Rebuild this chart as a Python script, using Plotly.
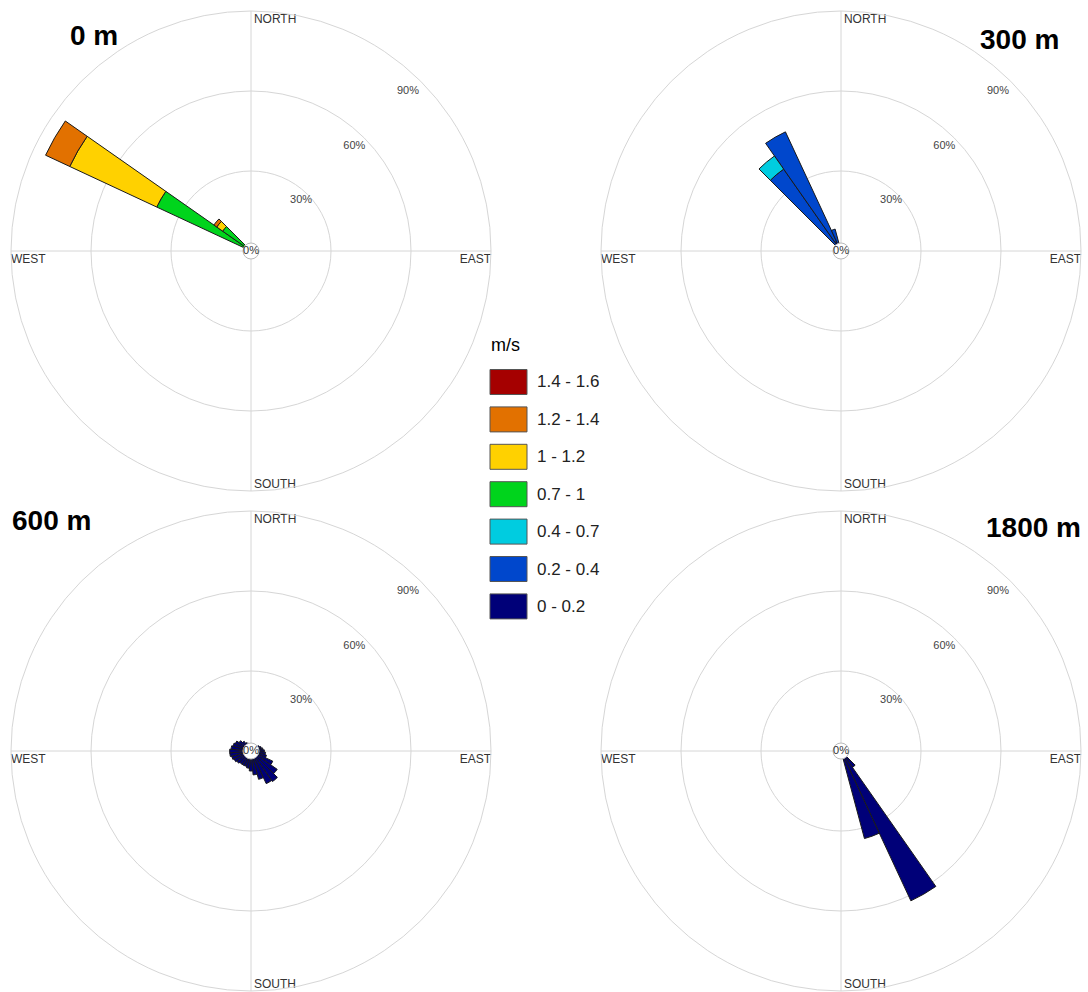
import plotly.graph_objects as go

# Speed classes (m/s) and their fill colours, lowest class first (stacking order)
speed_bins = ["0 - 0.2", "0.2 - 0.4", "0.4 - 0.7", "0.7 - 1", "1 - 1.2", "1.2 - 1.4", "1.4 - 1.6"]
bin_colors = ["#000078", "#0047CC", "#00CCE0", "#00D41C", "#FFD100", "#E27100", "#A50000"]

heights = ["0 m", "300 m", "600 m", "1800 m"]

# Direction sectors (degrees, blowing from) and frequency (%) per speed class
dirs_0m = [300, 310]
freq_0m = {
    "0.7 - 1": [39, 13],
    "1 - 1.2": [36, 2.7],
    "1.2 - 1.4": [10, 1.3],
}

dirs_300m = [320, 330, 340]
freq_300m = {
    "0 - 0.2": [3, 4, 2],
    "0.2 - 0.4": [34.5, 45.3, 6.5],
    "0.4 - 0.7": [6, 0, 0],
}

dirs_600m = [0, 10, 20, 30, 40, 50, 60, 70, 80, 90, 100, 110,
             120, 130, 140, 150, 160, 170, 180, 190, 200, 210, 220, 230,
             240, 250, 260, 270, 280, 290, 300, 310, 320, 330, 340, 350]
freq_600m = {
    "0 - 0.2": [2, 2, 2, 2, 2.5, 3, 3.5, 4, 4.5, 5, 5.5, 6,
                9, 12, 14, 13.5, 11, 9, 7.5, 6.5, 6, 6, 6, 6.5,
                7, 7.5, 8, 8, 7.5, 7, 6.5, 5.5, 4.5, 3.5, 3, 2.5],
}

dirs_1800m = [140, 150, 160]
freq_1800m = {
    "0 - 0.2": [7.5, 62, 34],
}

compass_names = ["NORTH", "EAST", "SOUTH", "WEST"]
compass_dirs = [0, 90, 180, 270]
ring_values = [30, 60, 90]
ring_labels = ["30%", "60%", "90%"]

W, H = 1088, 992
RADIUS = 240
panels = [
    (dirs_0m, freq_0m, 251, 251),
    (dirs_300m, freq_300m, 841, 251),
    (dirs_600m, freq_600m, 251, 751),
    (dirs_1800m, freq_1800m, 841, 751),
]

GRID = "#D6D6D6"
FONT = "Liberation Sans, Arial"
label_inset = [3.2, 4.7, 6.0]  # pull each ring label slightly inside its ring
fig = go.Figure()
layout_polars = {}

for i, (dirs, freq, cx, cy) in enumerate(panels):
    key = "polar" if i == 0 else f"polar{i + 1}"
    for name, color in zip(speed_bins, bin_colors):
        if name not in freq:
            continue
        fig.add_trace(go.Barpolar(
            r=freq[name], theta=dirs, width=10, name=name,
            marker=dict(color=color, line=dict(color="#1a1a1a", width=1)),
            showlegend=False, subplot=key, hoverinfo="skip",
        ))
    # ring percentage labels along the north-east diagonal
    fig.add_trace(go.Scatterpolar(
        r=[v - d for v, d in zip(ring_values, label_inset)],
        theta=[44.5] * len(ring_values),
        mode="text", text=ring_labels,
        textfont=dict(family=FONT, size=11, color="#444444"),
        showlegend=False, subplot=key, hoverinfo="skip",
    ))
    # compass point names just inside the outer ring
    fig.add_trace(go.Scatterpolar(
        r=[89, 90, 90, 90],
        theta=[d + off for d, off in zip(compass_dirs, [0.7, 0.8, -0.7, -0.8])],
        mode="text", text=compass_names,
        textposition=["bottom right", "bottom left", "top right", "bottom right"],
        textfont=dict(family=FONT, size=12, color="#333333"),
        showlegend=False, subplot=key, hoverinfo="skip",
    ))
    # calm circle at the centre
    fig.add_trace(go.Scatterpolar(
        r=[0], theta=[0], mode="markers+text", text=["0%"],
        textposition="middle center",
        marker=dict(size=16, color="white", line=dict(color="#BBBBBB", width=1)),
        textfont=dict(family=FONT, size=11, color="#333333"),
        showlegend=False, subplot=key, hoverinfo="skip",
    ))

    x0, x1 = (cx - RADIUS) / W, (cx + RADIUS) / W
    y0, y1 = 1 - (cy + RADIUS) / H, 1 - (cy - RADIUS) / H
    layout_polars[key] = dict(
        domain=dict(x=[x0, x1], y=[max(y0, 0), y1]),
        bgcolor="rgba(0,0,0,0)",
        barmode="stack",
        radialaxis=dict(range=[0, 90], tickvals=ring_values, showticklabels=False,
                        showline=False, ticks="", gridcolor=GRID, gridwidth=1),
        angularaxis=dict(rotation=90, direction="clockwise", tickvals=compass_dirs,
                         showticklabels=False, ticks="", gridcolor=GRID, gridwidth=1,
                         showline=True, linecolor=GRID, linewidth=1),
    )

annotations = []
# panel titles
title_pos = [(68, 36, "left"), (1061, 40, "right"), (10, 520, "left"), (1083, 527, "right")]
for text, (tx, ty, anchor) in zip(heights, title_pos):
    annotations.append(dict(
        x=tx / W, y=1 - ty / H, xref="paper", yref="paper", text=f"<b>{text}</b>",
        showarrow=False, xanchor=anchor, yanchor="middle",
        font=dict(family=FONT, size=28, color="#000000"),
    ))

# speed-class key
annotations.append(dict(
    x=489 / W, y=1 - 345 / H, xref="paper", yref="paper", text="m/s",
    showarrow=False, xanchor="left", yanchor="middle",
    font=dict(family=FONT, size=18, color="#000000"),
))
shapes = []
key_top = 382
key_step = 37.4
for j, (name, color) in enumerate(zip(reversed(speed_bins), reversed(bin_colors))):
    yc = key_top + j * key_step
    shapes.append(dict(
        type="rect", xref="paper", yref="paper",
        x0=490 / W, x1=527 / W, y0=1 - (yc + 12.5) / H, y1=1 - (yc - 12.5) / H,
        fillcolor=color, line=dict(color="#555555", width=1),
    ))
    annotations.append(dict(
        x=535 / W, y=1 - yc / H, xref="paper", yref="paper", text=name,
        showarrow=False, xanchor="left", yanchor="middle",
        font=dict(family=FONT, size=17, color="#222222"),
    ))

fig.update_layout(
    width=W, height=H,
    margin=dict(l=0, r=0, t=0, b=0),
    paper_bgcolor="white", plot_bgcolor="white",
    annotations=annotations, shapes=shapes,
    showlegend=False,
    **layout_polars,
)

fig.write_html("out.html")
